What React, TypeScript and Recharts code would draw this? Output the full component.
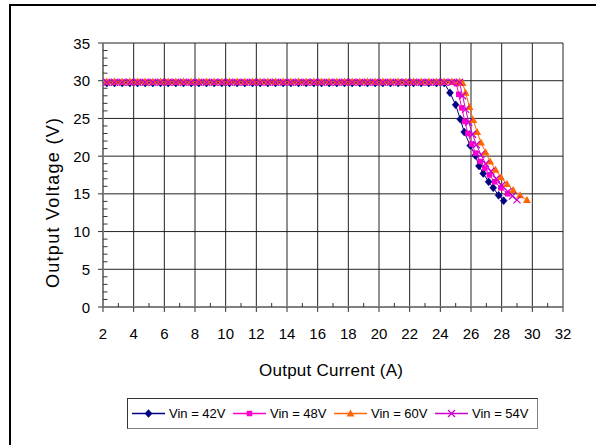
import React from 'react';
import { LineChart, Line, XAxis, YAxis, CartesianGrid, Legend, Label } from 'recharts';

const seriesNames = ['Vin = 42V', 'Vin = 48V', 'Vin = 60V', 'Vin = 54V'];
const seriesColors = ['#000080', '#FF00CC', '#FF6600', '#CC00CC'];

const flatCurrents = [
  2.25, 2.75, 3.25, 3.75, 4.25, 4.75, 5.25, 5.75, 6.25, 6.75, 7.25, 7.75, 8.25, 8.75, 9.25,
  9.75, 10.25, 10.75, 11.25, 11.75, 12.25, 12.75, 13.25, 13.75, 14.25, 14.75, 15.25, 15.75,
  16.25, 16.75, 17.25, 17.75, 18.25, 18.75, 19.25, 19.75, 20.25, 20.75, 21.25, 21.75, 22.25,
  22.75, 23.25, 23.75, 24.25,
];
const flatV42 = [
  29.7, 29.7, 29.7, 29.7, 29.7, 29.7, 29.7, 29.7, 29.7, 29.7, 29.7, 29.7, 29.7, 29.7, 29.7,
  29.7, 29.7, 29.7, 29.7, 29.7, 29.7, 29.7, 29.7, 29.7, 29.7, 29.7, 29.7, 29.7, 29.7, 29.7,
  29.7, 29.7, 29.7, 29.7, 29.7, 29.7, 29.7, 29.7, 29.7, 29.7, 29.7, 29.7, 29.7, 29.7, 29.7,
];
const flatV48 = [
  29.8, 29.8, 29.8, 29.8, 29.8, 29.8, 29.8, 29.8, 29.8, 29.8, 29.8, 29.8, 29.8, 29.8, 29.8,
  29.8, 29.8, 29.8, 29.8, 29.8, 29.8, 29.8, 29.8, 29.8, 29.8, 29.8, 29.8, 29.8, 29.8, 29.8,
  29.8, 29.8, 29.8, 29.8, 29.8, 29.8, 29.8, 29.8, 29.8, 29.8, 29.8, 29.8, 29.8, 29.8, 29.8,
];
const flatV60 = [
  29.9, 29.9, 29.9, 29.9, 29.9, 29.9, 29.9, 29.9, 29.9, 29.9, 29.9, 29.9, 29.9, 29.9, 29.9,
  29.9, 29.9, 29.9, 29.9, 29.9, 29.9, 29.9, 29.9, 29.9, 29.9, 29.9, 29.9, 29.9, 29.9, 29.9,
  29.9, 29.9, 29.9, 29.9, 29.9, 29.9, 29.9, 29.9, 29.9, 29.9, 29.9, 29.9, 29.9, 29.9, 29.9,
];
const flatV54 = [
  29.8, 29.8, 29.8, 29.8, 29.8, 29.8, 29.8, 29.8, 29.8, 29.8, 29.8, 29.8, 29.8, 29.8, 29.8,
  29.8, 29.8, 29.8, 29.8, 29.8, 29.8, 29.8, 29.8, 29.8, 29.8, 29.8, 29.8, 29.8, 29.8, 29.8,
  29.8, 29.8, 29.8, 29.8, 29.8, 29.8, 29.8, 29.8, 29.8, 29.8, 29.8, 29.8, 29.8, 29.8, 29.8,
];

const kneeI42 = [24.63, 25.0, 25.3, 25.56, 25.95, 26.28, 26.52, 26.8, 27.15, 27.45, 27.8, 28.13];
const kneeV42 = [28.4, 26.8, 24.9, 23.2, 21.4, 20.1, 18.7, 17.7, 16.6, 15.8, 14.8, 14.1];

const kneeI48 = [24.75, 25.05, 25.2, 25.4, 25.6, 25.8, 26.05, 26.3, 26.6, 26.9, 27.2, 27.55, 27.95, 28.4];
const kneeV48 = [29.8, 29.6, 28.2, 26.4, 24.6, 23.0, 21.6, 20.4, 19.3, 18.4, 17.5, 16.6, 15.8, 15.0];

const kneeI60 = [24.75, 25.25, 25.45, 25.65, 25.9, 26.15, 26.4, 26.65, 26.95, 27.25, 27.6, 27.95, 28.35, 28.75, 29.2, 29.65];
const kneeV60 = [29.9, 29.9, 29.7, 28.4, 26.5, 24.8, 23.2, 21.8, 20.5, 19.3, 18.2, 17.2, 16.3, 15.5, 14.8, 14.2];

const kneeI54 = [24.75, 25.25, 25.45, 25.65, 25.85, 26.1, 26.35, 26.65, 26.95, 27.3, 27.65, 28.0, 28.4, 28.7, 29.0];
const kneeV54 = [29.8, 29.8, 28.0, 26.2, 24.5, 22.9, 21.5, 20.2, 19.0, 18.0, 17.0, 16.1, 15.3, 14.7, 14.2];

const xTicks = [2, 3, 4, 5, 6, 7, 8, 9, 10, 11, 12, 13, 14, 15, 16, 17, 18, 19, 20, 21, 22, 23, 24, 25, 26, 27, 28, 29, 30, 31, 32];
const yTicks = [0, 1, 2, 3, 4, 5, 6, 7, 8, 9, 10, 11, 12, 13, 14, 15, 16, 17, 18, 19, 20, 21, 22, 23, 24, 25, 26, 27, 28, 29, 30, 31, 32, 33, 34, 35];
const xGrid = [2, 4, 6, 8, 10, 12, 14, 16, 18, 20, 22, 24, 26, 28, 30, 32];
const yGrid = [0, 5, 10, 15, 20, 25, 30, 35];

const toPoints = (I: number[], V: number[]) => I.map((x, i) => ({ i: x, v: V[i] }));

const data42 = toPoints(flatCurrents.concat(kneeI42), flatV42.concat(kneeV42));
const data48 = toPoints(flatCurrents.concat(kneeI48), flatV48.concat(kneeV48));
const data60 = toPoints(flatCurrents.concat(kneeI60), flatV60.concat(kneeV60));
const data54 = toPoints(flatCurrents.concat(kneeI54), flatV54.concat(kneeV54));

const FONT = '"Liberation Sans", Arial, sans-serif';

const PLOT_LEFT = 103;
const PLOT_BOTTOM = 307;

function Marker({ kind, cx, cy, color }: { kind: number; cx: number; cy: number; color: string }) {
  if (kind === 0) {
    return <polygon points={`${cx},${cy - 4} ${cx + 3.5},${cy} ${cx},${cy + 4} ${cx - 3.5},${cy}`} fill={color} stroke={color} strokeWidth={0.5} />;
  }
  if (kind === 1) {
    return <rect x={cx - 2.75} y={cy - 2.75} width={5.5} height={5.5} fill={color} />;
  }
  if (kind === 2) {
    return <polygon points={`${cx},${cy - 4} ${cx + 4},${cy + 3} ${cx - 4},${cy + 3}`} fill={color} />;
  }
  return (
    <g stroke={color} strokeWidth={1.3}>
      <line x1={cx - 3.5} y1={cy - 3.5} x2={cx + 3.5} y2={cy + 3.5} />
      <line x1={cx - 3.5} y1={cy + 3.5} x2={cx + 3.5} y2={cy - 3.5} />
    </g>
  );
}

const makeDot = (kind: number, color: string) => (p: any) => {
  if (p.cx == null || p.cy == null) return <g key={`n${kind}-${p.index}`} />;
  return <Marker key={`m${kind}-${p.index}`} kind={kind} cx={p.cx} cy={p.cy} color={color} />;
};

function YTick(props: any) {
  const { y, payload } = props;
  const v = payload.value;
  if (v % 5 === 0) {
    return (
      <g>
        <line x1={PLOT_LEFT - 5} x2={PLOT_LEFT} y1={y} y2={y} stroke="#333" strokeWidth={1} />
        <text x={PLOT_LEFT - 13} y={y + 5.5} textAnchor="end" fontFamily={FONT} fontSize={15} fill="#000">{v}</text>
      </g>
    );
  }
  return <line x1={PLOT_LEFT} x2={PLOT_LEFT + 4.5} y1={y} y2={y} stroke="#333" strokeWidth={1} />;
}

function XTick(props: any) {
  const { x, payload } = props;
  const v = payload.value;
  if (v % 2 === 0) {
    return (
      <g>
        <line x1={x} x2={x} y1={PLOT_BOTTOM} y2={PLOT_BOTTOM + 5} stroke="#333" strokeWidth={1} />
        <text x={x} y={PLOT_BOTTOM + 32} textAnchor="middle" fontFamily={FONT} fontSize={15} fill="#000">{v}</text>
      </g>
    );
  }
  return <line x1={x} x2={x} y1={PLOT_BOTTOM - 4} y2={PLOT_BOTTOM} stroke="#333" strokeWidth={1} />;
}

function LegendBox() {
  return (
    <div style={{ width: 411, height: 31, border: '1px solid #808080', borderLeftColor: '#333', borderTopColor: '#333', boxSizing: 'border-box', background: '#fff' }}>
      <svg width={409} height={29} style={{ display: 'block' }}>
        {seriesNames.map((name, k) => {
          const x0 = 4 + k * 101;
          const c = seriesColors[k];
          return (
            <g key={name}>
              <line x1={x0} x2={x0 + 33} y1={14.5} y2={14.5} stroke={c} strokeWidth={1.5} />
              <Marker kind={k} cx={x0 + 16.5} cy={14.5} color={c} />
              <text x={x0 + 37} y={19} fontFamily={FONT} fontSize={13} fill="#000">{name}</text>
            </g>
          );
        })}
      </svg>
    </div>
  );
}

export default function App() {
  const series = [data42, data48, data60, data54];
  return (
    <div style={{ position: 'absolute', left: 0, top: 0, width: 596, height: 445, background: '#fff', overflow: 'hidden' }}>
      <div style={{ position: 'absolute', left: 9, top: 4, width: 600, height: 460, borderTop: '2px solid #000', borderLeft: '2px solid #000' }} />
      <div style={{ position: 'absolute', left: 0, top: 0 }}>
        <LineChart width={596} height={445} margin={{ top: 43, right: 33, bottom: 108, left: 43 }}>
          <CartesianGrid stroke="#222" strokeWidth={1} horizontalValues={yGrid} verticalValues={xGrid} />
          <XAxis
            dataKey="i"
            type="number"
            domain={[2, 32]}
            ticks={xTicks}
            interval={0}
            height={30}
            allowDuplicatedCategory={false}
            axisLine={{ stroke: '#808080', strokeWidth: 2 }}
            tickLine={false}
            tick={<XTick />}
          >
            <Label
              content={() => (
                <text x={331} y={376} textAnchor="middle" fontFamily={FONT} fontSize={17} fill="#000" textLength={144} lengthAdjust="spacing">
                  Output Current (A)
                </text>
              )}
            />
          </XAxis>
          <YAxis
            dataKey="v"
            type="number"
            domain={[0, 35]}
            ticks={yTicks}
            interval={0}
            width={60}
            axisLine={{ stroke: '#808080', strokeWidth: 2 }}
            tickLine={false}
            tick={<YTick />}
          >
            <Label
              content={() => (
                <text
                  x={59}
                  y={203}
                  transform="rotate(-90 59 203)"
                  textAnchor="middle"
                  fontFamily={FONT}
                  fontSize={18}
                  fill="#000"
                  textLength={170}
                  lengthAdjust="spacing"
                >
                  Output Voltage (V)
                </text>
              )}
            />
          </YAxis>
          <Legend
            layout="horizontal"
            verticalAlign="middle"
            align="center"
            wrapperStyle={{ position: 'absolute', left: 127, top: 398, width: 411, height: 31 }}
            content={() => <LegendBox />}
          />
          {series.map((d, k) => (
            <Line
              key={seriesNames[k]}
              data={d}
              dataKey="v"
              name={seriesNames[k]}
              type="linear"
              stroke={seriesColors[k]}
              strokeWidth={1}
              dot={makeDot(k, seriesColors[k])}
              activeDot={false}
              isAnimationActive={false}
            />
          ))}
        </LineChart>
      </div>
    </div>
  );
}
